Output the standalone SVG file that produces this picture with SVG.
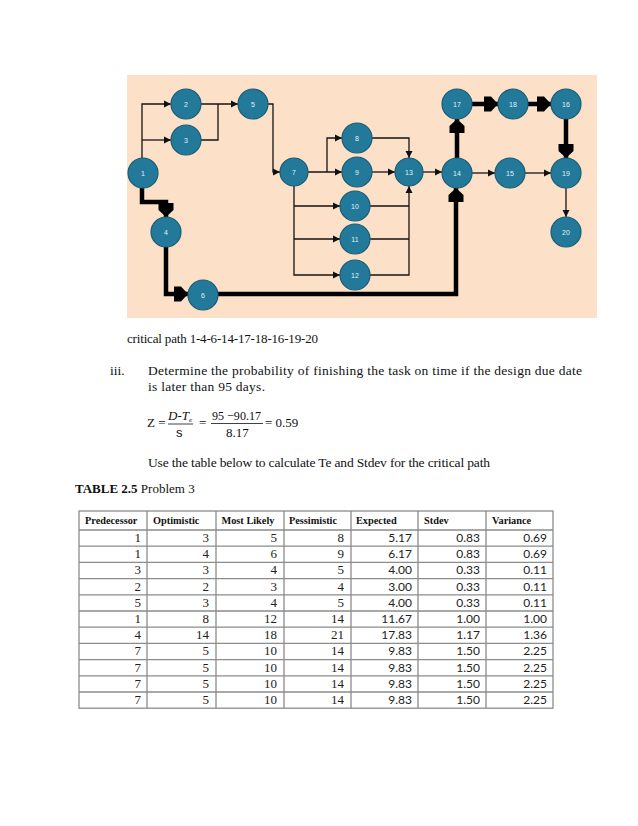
<svg xmlns="http://www.w3.org/2000/svg" width="638" height="826" viewBox="0 0 638 826">
<defs>
<marker id="a" markerUnits="userSpaceOnUse" markerWidth="8" markerHeight="8" refX="7" refY="4" orient="auto"><path d="M0,0.5 L7,4 L0,7.5 Z" fill="#111"/></marker>
<marker id="A" markerUnits="userSpaceOnUse" markerWidth="16" markerHeight="18" refX="14" refY="8.5" orient="auto"><path d="M0,1 L7,1 L14,8.5 L7,16 L0,16 Z" fill="#000"/></marker>
</defs>
<style>
.n circle{fill:#22799a;stroke:#195b74;stroke-width:1.2}
.n text{font-family:"Liberation Sans",Arial,sans-serif;font-size:7px;fill:#e4f1f6;text-anchor:middle}
.t{fill:none;stroke:#151515;stroke-width:1.3}
.k{fill:none;stroke:#000;stroke-width:4.5}
.body{font-family:"Liberation Serif","Times New Roman",serif;font-size:13.5px;fill:#111}
.tm{font-family:"Liberation Serif","Times New Roman",serif;font-size:13px;fill:#111}
.hd{font-family:"Liberation Serif","Times New Roman",serif;font-size:10.3px;font-weight:bold;fill:#111}
.num{font-family:"Liberation Serif","Times New Roman",serif;font-size:13px;fill:#222;text-anchor:end}
.cal{font-family:Lato,"Liberation Sans",sans-serif;font-size:12px;fill:#222;text-anchor:end}
.grid{stroke:#8c8c8c;stroke-width:1.3;fill:none}
</style>
<rect width="638" height="826" fill="#fff"/>
<rect x="127" y="75" width="470" height="243" fill="#fce0c7"/>

<g id="connectors">
<path class="t" d="M142,158 V104 H171" marker-end="url(#a)"/>
<path class="t" d="M142,140 H171" marker-end="url(#a)"/>
<path class="t" d="M201,104 H238" marker-end="url(#a)"/>
<path class="t" d="M201,140 H218 V104"/>
<path class="t" d="M268,104 H273 V172 H280" marker-end="url(#a)"/>
<path class="t" d="M308,172 H342" marker-end="url(#a)"/>
<path class="t" d="M327,172 V138 H342" marker-end="url(#a)"/>
<path class="t" d="M294,206 H340" marker-end="url(#a)"/>
<path class="t" d="M294,239 H340" marker-end="url(#a)"/>
<path class="t" d="M294,186 V275 H340" marker-end="url(#a)"/>
<path class="t" d="M372,138 H409 V158" marker-end="url(#a)"/>
<path class="t" d="M372,172 H395" marker-end="url(#a)"/>
<path class="t" d="M370,206 H409"/>
<path class="t" d="M370,239 H409"/>
<path class="t" d="M370,275 H409 V186" marker-end="url(#a)"/>
<path class="t" d="M423,172 H442" marker-end="url(#a)"/>
<path class="t" d="M472,173 H495" marker-end="url(#a)"/>
<path class="t" d="M525,173 H551" marker-end="url(#a)"/>
<path class="t" d="M566,188 V217" marker-end="url(#a)"/>
<path class="k" d="M142,188 V202 H166 V217" marker-end="url(#A)"/>
<path class="k" d="M166,247 V294 H188" marker-end="url(#A)"/>
<path class="k" d="M218,294 H456 V188" marker-end="url(#A)"/>
<path class="k" d="M457,158 V119" marker-end="url(#A)"/>
<path class="k" d="M472,104 H498" marker-end="url(#A)"/>
<path class="k" d="M528,104 H551" marker-end="url(#A)"/>
<path class="k" d="M566,119 V158" marker-end="url(#A)"/>
</g>

<g id="n1" class="n"><circle cx="143" cy="173" r="15"/><text x="143" y="175.5">1</text></g>
<g id="n2" class="n"><circle cx="186" cy="104" r="15"/><text x="186" y="106.5">2</text></g>
<g id="n3" class="n"><circle cx="186" cy="140" r="15"/><text x="186" y="142.5">3</text></g>
<g id="n4" class="n"><circle cx="166" cy="232" r="15"/><text x="166" y="234.5">4</text></g>
<g id="n5" class="n"><circle cx="253" cy="104" r="15"/><text x="253" y="106.5">5</text></g>
<g id="n6" class="n"><circle cx="203" cy="295" r="15"/><text x="203" y="297.5">6</text></g>
<g id="n7" class="n"><circle cx="294" cy="172" r="14"/><text x="294" y="174.5">7</text></g>
<g id="n8" class="n"><circle cx="357" cy="138" r="15"/><text x="357" y="140.5">8</text></g>
<g id="n9" class="n"><circle cx="357" cy="172" r="15"/><text x="357" y="174.5">9</text></g>
<g id="n10" class="n"><circle cx="355" cy="206" r="15"/><text x="355" y="208.5">10</text></g>
<g id="n11" class="n"><circle cx="355" cy="239" r="15"/><text x="355" y="241.5">11</text></g>
<g id="n12" class="n"><circle cx="355" cy="275" r="15"/><text x="355" y="277.5">12</text></g>
<g id="n13" class="n"><circle cx="409" cy="172" r="14"/><text x="409" y="174.5">13</text></g>
<g id="n14" class="n"><circle cx="457" cy="173" r="15"/><text x="457" y="175.5">14</text></g>
<g id="n15" class="n"><circle cx="510" cy="173" r="15"/><text x="510" y="175.5">15</text></g>
<g id="n16" class="n"><circle cx="566" cy="104" r="15"/><text x="566" y="106.5">16</text></g>
<g id="n17" class="n"><circle cx="457" cy="104" r="15"/><text x="457" y="106.5">17</text></g>
<g id="n18" class="n"><circle cx="513" cy="104" r="15"/><text x="513" y="106.5">18</text></g>
<g id="n19" class="n"><circle cx="566" cy="173" r="15"/><text x="566" y="175.5">19</text></g>
<g id="n20" class="n"><circle cx="566" cy="232" r="15"/><text x="566" y="234.5">20</text></g>

<text class="tm" x="127" y="343" textLength="191">critical path 1-4-6-14-17-18-16-19-20</text>
<text class="body" x="110" y="375">iii.</text>
<text class="body" x="148" y="375" textLength="434">Determine the probability of finishing the task on time if the design due date</text>
<text class="body" x="148" y="391" textLength="117">is later than 95 days.</text>

<g id="formula" class="tm">
<text x="147" y="427">Z =</text>
<text x="168" y="420" font-style="italic">D-T<tspan font-size="7" dy="2">e</tspan></text>
<line x1="168" y1="424" x2="193" y2="424" stroke="#111" stroke-width="0.8"/>
<text x="176" y="437" font-family="'Liberation Sans',Arial,sans-serif">s</text>
<text x="199" y="427">=</text>
<text x="212" y="420" textLength="49" lengthAdjust="spacingAndGlyphs">95 −90.17</text>
<line x1="211" y1="423.5" x2="263" y2="423.5" stroke="#111" stroke-width="0.8"/>
<text x="226" y="437">8.17</text>
<text x="265" y="427">= 0.59</text>
</g>

<text class="body" x="148" y="467" textLength="342">Use the table below to calculate Te and Stdev for the critical path</text>
<text class="tm" x="75" y="493"><tspan font-weight="bold">TABLE 2.5</tspan> Problem 3</text>

<g id="table">
<rect class="grid" x="79" y="511" width="474" height="197.2"/>
<path class="grid" d="M147,511 V708.2 M216,511 V708.2 M284,511 V708.2 M351,511 V708.2 M418,511 V708.2 M486,511 V708.2 M79,530 H553 M79,546.2 H553 M79,562.4 H553 M79,578.6 H553 M79,594.8 H553 M79,611 H553 M79,627.2 H553 M79,643.4 H553 M79,659.6 H553 M79,675.8 H553 M79,692 H553"/>
<g class="hd">
<text x="85" y="524">Predecessor</text>
<text x="153" y="524">Optimistic</text>
<text x="221.5" y="524">Most Likely</text>
<text x="289" y="524">Pessimistic</text>
<text x="356" y="524">Expected</text>
<text x="424" y="524">Stdev</text>
<text x="492" y="524">Variance</text>
</g>
<g class="num">
<text x="141" y="542">1</text><text x="209" y="542">3</text><text x="277" y="542">5</text><text x="344" y="542">8</text>
<text x="141" y="558.2">1</text><text x="209" y="558.2">4</text><text x="277" y="558.2">6</text><text x="344" y="558.2">9</text>
<text x="141" y="574.4">3</text><text x="209" y="574.4">3</text><text x="277" y="574.4">4</text><text x="344" y="574.4">5</text>
<text x="141" y="590.6">2</text><text x="209" y="590.6">2</text><text x="277" y="590.6">3</text><text x="344" y="590.6">4</text>
<text x="141" y="606.8">5</text><text x="209" y="606.8">3</text><text x="277" y="606.8">4</text><text x="344" y="606.8">5</text>
<text x="141" y="623">1</text><text x="209" y="623">8</text><text x="277" y="623">12</text><text x="344" y="623">14</text>
<text x="141" y="639.2">4</text><text x="209" y="639.2">14</text><text x="277" y="639.2">18</text><text x="344" y="639.2">21</text>
<text x="141" y="655.4">7</text><text x="209" y="655.4">5</text><text x="277" y="655.4">10</text><text x="344" y="655.4">14</text>
<text x="141" y="671.6">7</text><text x="209" y="671.6">5</text><text x="277" y="671.6">10</text><text x="344" y="671.6">14</text>
<text x="141" y="687.8">7</text><text x="209" y="687.8">5</text><text x="277" y="687.8">10</text><text x="344" y="687.8">14</text>
<text x="141" y="704">7</text><text x="209" y="704">5</text><text x="277" y="704">10</text><text x="344" y="704">14</text>
</g>
<g class="cal">
<text x="412" y="542">5.17</text><text x="480" y="542">0.83</text><text x="547" y="542">0.69</text>
<text x="412" y="558.2">6.17</text><text x="480" y="558.2">0.83</text><text x="547" y="558.2">0.69</text>
<text x="412" y="574.4">4.00</text><text x="480" y="574.4">0.33</text><text x="547" y="574.4">0.11</text>
<text x="412" y="590.6">3.00</text><text x="480" y="590.6">0.33</text><text x="547" y="590.6">0.11</text>
<text x="412" y="606.8">4.00</text><text x="480" y="606.8">0.33</text><text x="547" y="606.8">0.11</text>
<text x="412" y="623">11.67</text><text x="480" y="623">1.00</text><text x="547" y="623">1.00</text>
<text x="412" y="639.2">17.83</text><text x="480" y="639.2">1.17</text><text x="547" y="639.2">1.36</text>
<text x="412" y="655.4">9.83</text><text x="480" y="655.4">1.50</text><text x="547" y="655.4">2.25</text>
<text x="412" y="671.6">9.83</text><text x="480" y="671.6">1.50</text><text x="547" y="671.6">2.25</text>
<text x="412" y="687.8">9.83</text><text x="480" y="687.8">1.50</text><text x="547" y="687.8">2.25</text>
<text x="412" y="704">9.83</text><text x="480" y="704">1.50</text><text x="547" y="704">2.25</text>
</g>
</g>
</svg>
